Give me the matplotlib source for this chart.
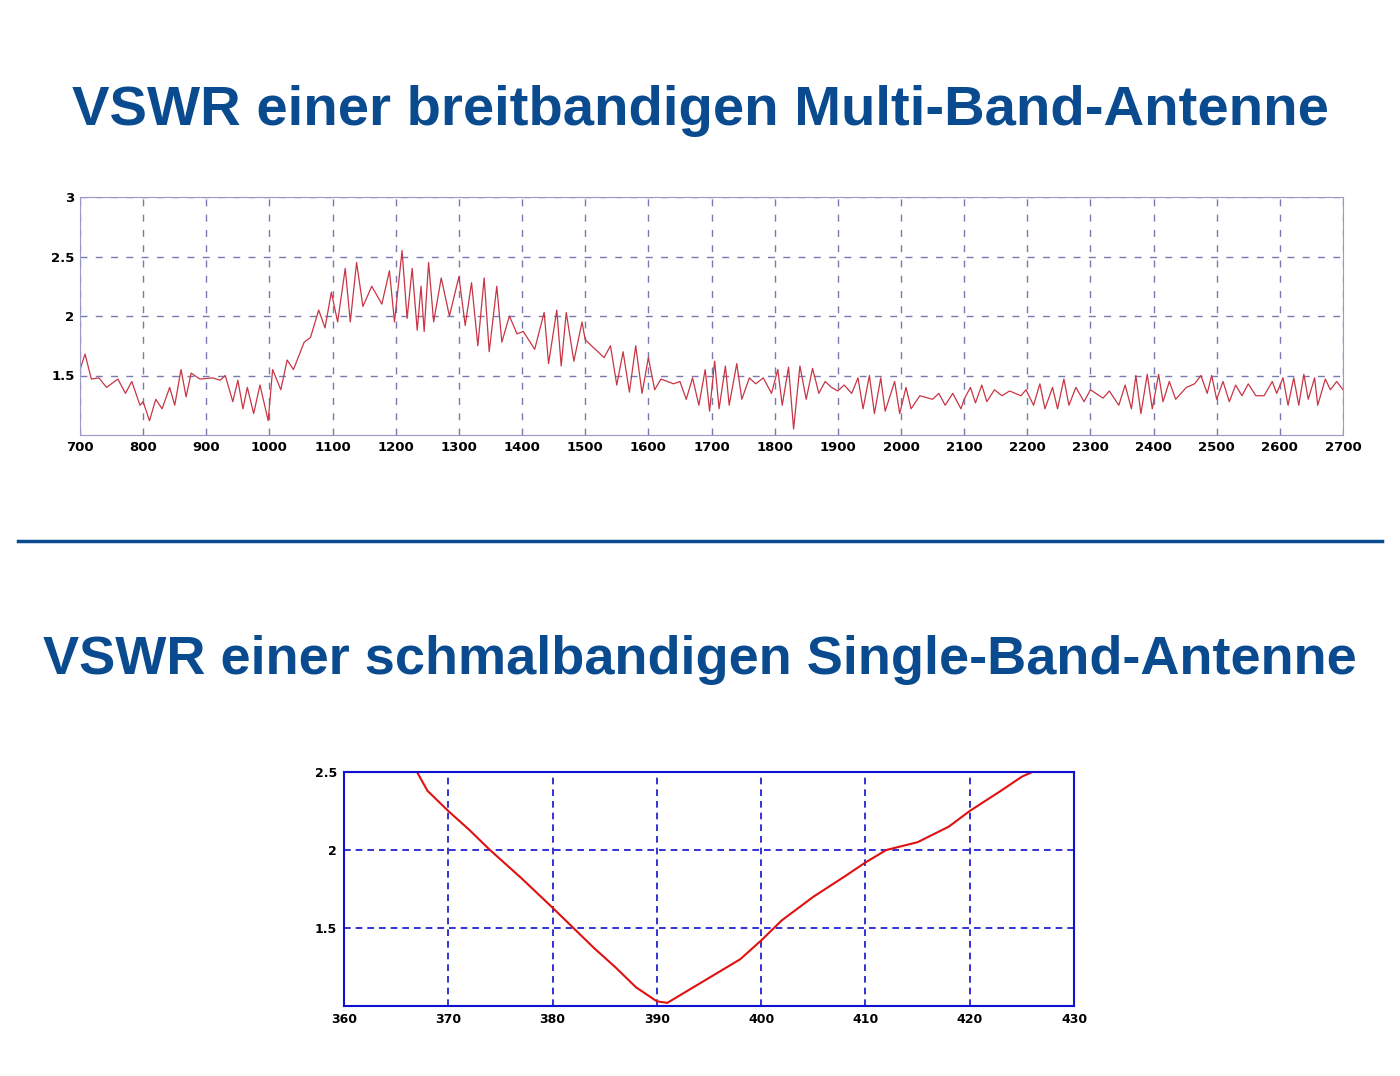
import matplotlib
matplotlib.use("Agg")
import matplotlib.pyplot as plt
from matplotlib.lines import Line2D

title_top = "VSWR einer breitbandigen Multi-Band-Antenne"
title_bot = "VSWR einer schmalbandigen Single-Band-Antenne"

f1 = [700,708,718,730,742,760,772,782,795,800,810,820,830,842,850,860,868,876,890,910,922,930,942,950,958,965,975,985,998,
      1005,1018,1028,1038,1055,1065,1078,1088,1098,1108,1120,1128,1138,1148,1162,1178,1190,1198,1210,1218,1226,1234,1240,1245,
      1252,1260,1272,1285,1300,1310,1320,1330,1340,1348,1360,1368,1380,1392,1402,1420,1435,1442,1455,1462,1470,1482,1495,
      1500,1510,1530,1540,1550,1560,1570,1580,1590,1600,1610,1620,1640,1650,1660,1670,1680,1690,1697,1705,1712,1722,1728,
      1740,1748,1760,1770,1782,1795,1805,1812,1822,1830,1840,1850,1860,1870,1880,1890,1900,1910,1922,1932,1940,1950,1958,
      1968,1975,1990,1998,2008,2016,2030,2050,2060,2070,2082,2095,2100,2110,2118,2128,2136,2148,2160,2172,2190,2198,2210,
      2220,2228,2240,2248,2258,2266,2277,2290,2300,2320,2330,2345,2355,2365,2372,2380,2390,2398,2408,2415,2425,2435,2452,
      2465,2475,2485,2492,2500,2510,2520,2530,2540,2550,2562,2575,2588,2595,2605,2613,2622,2630,2638,2645,2655,2660,2672,
      2680,2690,2700]
v1 = [1.55,1.68,1.47,1.48,1.40,1.47,1.35,1.45,1.25,1.28,1.12,1.30,1.22,1.40,1.25,1.55,1.32,1.52,1.47,1.48,1.46,1.50,1.28,1.46,1.22,1.40,1.18,1.42,1.12,
      1.55,1.38,1.63,1.55,1.78,1.82,2.05,1.90,2.20,1.95,2.40,1.95,2.45,2.08,2.25,2.10,2.38,1.95,2.55,1.98,2.40,1.88,2.25,1.87,
      2.45,1.95,2.32,2.00,2.33,1.92,2.28,1.75,2.32,1.70,2.25,1.78,2.00,1.85,1.87,1.72,2.03,1.60,2.05,1.58,2.03,1.62,1.95,
      1.80,1.75,1.65,1.75,1.42,1.70,1.36,1.75,1.35,1.65,1.38,1.47,1.43,1.45,1.30,1.48,1.25,1.55,1.20,1.62,1.22,1.58,1.25,
      1.60,1.30,1.48,1.43,1.48,1.35,1.55,1.25,1.57,1.05,1.58,1.30,1.56,1.35,1.45,1.40,1.37,1.42,1.35,1.48,1.22,1.50,1.18,
      1.48,1.20,1.45,1.18,1.40,1.22,1.33,1.30,1.35,1.25,1.35,1.22,1.30,1.40,1.27,1.42,1.28,1.38,1.33,1.37,1.33,1.38,1.25,
      1.43,1.22,1.40,1.22,1.47,1.25,1.40,1.28,1.38,1.31,1.37,1.25,1.42,1.22,1.50,1.18,1.51,1.22,1.51,1.28,1.45,1.30,1.40,
      1.43,1.50,1.35,1.50,1.30,1.45,1.28,1.42,1.33,1.43,1.33,1.33,1.45,1.35,1.48,1.25,1.48,1.25,1.51,1.30,1.48,1.25,1.47,
      1.38,1.45,1.38]

f2 = [360,366,367,368,370,372,374,377,380,382,384,386,388,390,391,393,395,398,400,402,405,408,410,412,415,418,420,423,425,426,430]
v2 = [2.5,2.5,2.5,2.38,2.25,2.13,2.0,1.82,1.63,1.5,1.37,1.25,1.12,1.03,1.02,1.1,1.18,1.3,1.42,1.55,1.7,1.83,1.92,2.0,2.05,2.15,2.25,2.38,2.47,2.5,2.5]

fig = plt.figure(figsize=(14, 10.76), dpi=100)
blue = "#0a4a8f"
fig.text(0.5, 0.897, title_top, ha="center", va="center", fontsize=40.5, fontweight="bold", color=blue, family="Liberation Sans")
fig.text(0.5, 0.387, title_bot, ha="center", va="center", fontsize=39, fontweight="bold", color=blue, family="Liberation Sans")
fig.add_artist(Line2D([18/1400, 1382/1400], [1-541/1076]*2, color=blue, lw=2.5))

ax1 = fig.add_axes([80/1400, 1-435/1076, 1263/1400, 238/1076])
ax1.plot(f1, v1, color="#c83545", lw=0.9)
ax1.set_xlim(700, 2700); ax1.set_ylim(1.0, 3.0)
ax1.set_xticks(range(700, 2701, 100)); ax1.set_yticks([1.5, 2, 2.5, 3])
ax1.set_yticklabels(["1.5", "2", "2.5", "3"])
ax1.grid(True, color="#7a7ab0", ls=(0, (5, 6)), lw=1)
for s in ax1.spines.values():
    s.set_color("#9a9ac8")
ax1.tick_params(length=0, labelsize=9.5, pad=4)
for t in ax1.get_xticklabels() + ax1.get_yticklabels():
    t.set_fontweight("bold")

ax2 = fig.add_axes([344/1400, 1-1006/1076, 730/1400, 234/1076])
ax2.plot(f2, v2, color="#e01010", lw=1.5)
ax2.set_xlim(360, 430); ax2.set_ylim(1.0, 2.5)
ax2.set_xticks(range(360, 431, 10)); ax2.set_yticks([1.5, 2, 2.5])
ax2.set_yticklabels(["1.5", "2", "2.5"])
ax2.grid(True, color="#1010d0", ls=(0, (4, 3)), lw=1.2)
for s in ax2.spines.values():
    s.set_color("#1010d0"); s.set_linewidth(1.5)
ax2.tick_params(length=0, labelsize=9, pad=5)
for t in ax2.get_xticklabels() + ax2.get_yticklabels():
    t.set_fontweight("bold")

fig.savefig("out.png", dpi=100)
